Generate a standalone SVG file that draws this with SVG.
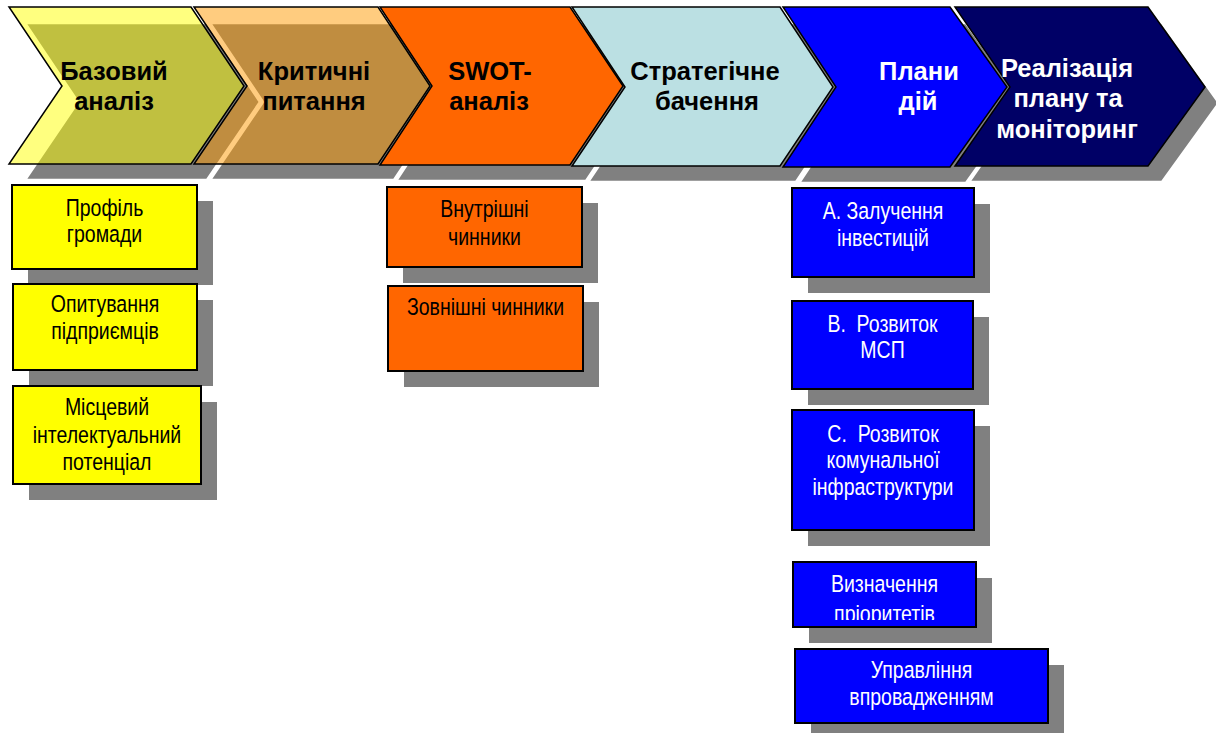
<svg xmlns="http://www.w3.org/2000/svg" width="1216" height="733" viewBox="0 0 1216 733">
<style>
.shd{fill:#808080;stroke:#ffffff;stroke-width:2.5;stroke-linejoin:miter}
.chev{stroke:#000;stroke-width:1.5;stroke-linejoin:miter}
.bsh{fill:#808080}
.box{stroke:#000;stroke-width:2}
.ct{font-family:"Liberation Sans",Arial,sans-serif;font-weight:bold;font-size:25.5px;text-anchor:middle}
.bt{font-family:"Liberation Sans",Arial,sans-serif;font-size:23.5px;text-anchor:middle}
.dk{fill:#000}
.wh{fill:#fff}
</style>
<defs>
<polygon id="c1" points="9,7 191,7 244,86 191,164 9,164 62,86"/>
<polygon id="c2" points="194,7 378,7 430,86 378,164 194,164 247,86"/>
<polygon id="c3" points="380,7 570,7 623,86 570,165 380,165 432,86"/>
<polygon id="c4" points="572,7 780,7 833,87 780,166 572,166 625,87"/>
<polygon id="c5" points="783,7 950,7 1007,87 950,167 783,167 836,87"/>
<polygon id="c6" points="955,7 1148,7 1205,87 1148,166 955,166 1010,87"/>
<clipPath id="clipPr"><rect x="790" y="560" width="200" height="60"/></clipPath>
</defs>

<g id="shadows">
<use href="#c1" class="shd" transform="translate(16,16)"/>
<use href="#c2" class="shd" transform="translate(16,16)"/>
<use href="#c3" class="shd" transform="translate(16,16)"/>
<use href="#c4" class="shd" transform="translate(16,16)"/>
<use href="#c5" class="shd" transform="translate(16,16)"/>
<use href="#c6" class="shd" transform="translate(14,16)"/>
</g>

<g id="connectors"></g>

<g id="step1">
<use href="#c1" class="chev" fill="#FFFF00" fill-opacity="0.5"/>
<text class="ct dk" x="114" y="80">Базовий</text>
<text class="ct dk" x="114" y="110">аналіз</text>
</g>
<g id="step2">
<use href="#c2" class="chev" fill="#FF9900" fill-opacity="0.5"/>
<text class="ct dk" x="314" y="80">Критичні</text>
<text class="ct dk" x="314" y="110">питання</text>
</g>
<g id="step3">
<use href="#c3" class="chev" fill="#FF6600"/>
<text class="ct dk" x="490" y="80">SWOT-</text>
<text class="ct dk" x="489" y="110">аналіз</text>
</g>
<g id="step4">
<use href="#c4" class="chev" fill="#BBE0E3"/>
<text class="ct dk" x="705" y="80">Стратегічне</text>
<text class="ct dk" x="707" y="110">бачення</text>
</g>
<g id="step5">
<use href="#c5" class="chev" fill="#0000FF"/>
<text class="ct wh" x="919" y="80">Плани</text>
<text class="ct wh" x="918" y="110">дій</text>
</g>
<g id="step6">
<use href="#c6" class="chev" fill="#000066"/>
<text class="ct wh" x="1067" y="77">Реалізація</text>
<text class="ct wh" x="1068" y="107">плану та</text>
<text class="ct wh" x="1067" y="138">моніторинг</text>
</g>

<g id="box-profile">
<rect class="bsh" x="28" y="201" width="185" height="84"/>
<rect class="box" x="12" y="185" width="185" height="84" fill="#FFFF00"/>
<g transform="translate(104.5,0) scale(0.83,1)" class="bt dk">
<text x="0" y="216">Профіль</text>
<text x="0" y="242">громади</text>
</g>
</g>
<g id="box-survey">
<rect class="bsh" x="29" y="300" width="184" height="86"/>
<rect class="box" x="13" y="284" width="184" height="86" fill="#FFFF00"/>
<g transform="translate(105,0) scale(0.83,1)" class="bt dk">
<text x="0" y="312">Опитування</text>
<text x="0" y="339">підприємців</text>
</g>
</g>
<g id="box-intel">
<rect class="bsh" x="29" y="402" width="188" height="98"/>
<rect class="box" x="13" y="386" width="188" height="98" fill="#FFFF00"/>
<g transform="translate(107,0) scale(0.83,1)" class="bt dk">
<text x="0" y="415">Місцевий</text>
<text x="0" y="443">інтелектуальний</text>
<text x="0" y="470">потенціал</text>
</g>
</g>

<g id="box-internal">
<rect class="bsh" x="403" y="203" width="195" height="80"/>
<rect class="box" x="387" y="187" width="195" height="80" fill="#FF6600"/>
<g transform="translate(484.5,0) scale(0.83,1)" class="bt dk">
<text x="0" y="217">Внутрішні</text>
<text x="0" y="245">чинники</text>
</g>
</g>
<g id="box-external">
<rect class="bsh" x="404" y="302" width="195" height="85"/>
<rect class="box" x="388" y="286" width="195" height="85" fill="#FF6600"/>
<g transform="translate(485.5,0) scale(0.83,1)" class="bt dk">
<text x="0" y="315">Зовнішні чинники</text>
</g>
</g>

<g id="box-a">
<rect class="bsh" x="808" y="204" width="182" height="89"/>
<rect class="box" x="792" y="188" width="182" height="89" fill="#0000FF"/>
<g transform="translate(883,0) scale(0.83,1)" class="bt wh">
<text x="0" y="219">А. Залучення</text>
<text x="0" y="246">інвестицій</text>
</g>
</g>
<g id="box-b">
<rect class="bsh" x="808" y="317" width="181" height="88"/>
<rect class="box" x="792" y="301" width="181" height="88" fill="#0000FF"/>
<g transform="translate(882.5,0) scale(0.83,1)" class="bt wh">
<text x="0" y="332" xml:space="preserve">В.  Розвиток</text>
<text x="0" y="358">МСП</text>
</g>
</g>
<g id="box-c">
<rect class="bsh" x="808" y="426" width="182" height="120"/>
<rect class="box" x="792" y="410" width="182" height="120" fill="#0000FF"/>
<g transform="translate(883,0) scale(0.83,1)" class="bt wh">
<text x="0" y="442" xml:space="preserve">С.  Розвиток</text>
<text x="0" y="468">комунальної</text>
<text x="0" y="495">інфраструктури</text>
</g>
</g>
<g id="box-priorities">
<rect class="bsh" x="809" y="578" width="183" height="65"/>
<rect class="box" x="793" y="562" width="183" height="65" fill="#0000FF"/>
<g clip-path="url(#clipPr)">
<g transform="translate(884.5,0) scale(0.83,1)" class="bt wh">
<text x="0" y="592">Визначення</text>
<text x="0" y="622">пріоритетів</text>
</g>
</g>
</g>
<g id="box-management">
<rect class="bsh" x="811" y="665" width="253" height="68"/>
<rect class="box" x="795" y="649" width="253" height="74" fill="#0000FF"/>
<g transform="translate(921.5,0) scale(0.83,1)" class="bt wh">
<text x="0" y="678">Управління</text>
<text x="0" y="705">впровадженням</text>
</g>
</g>
</svg>
